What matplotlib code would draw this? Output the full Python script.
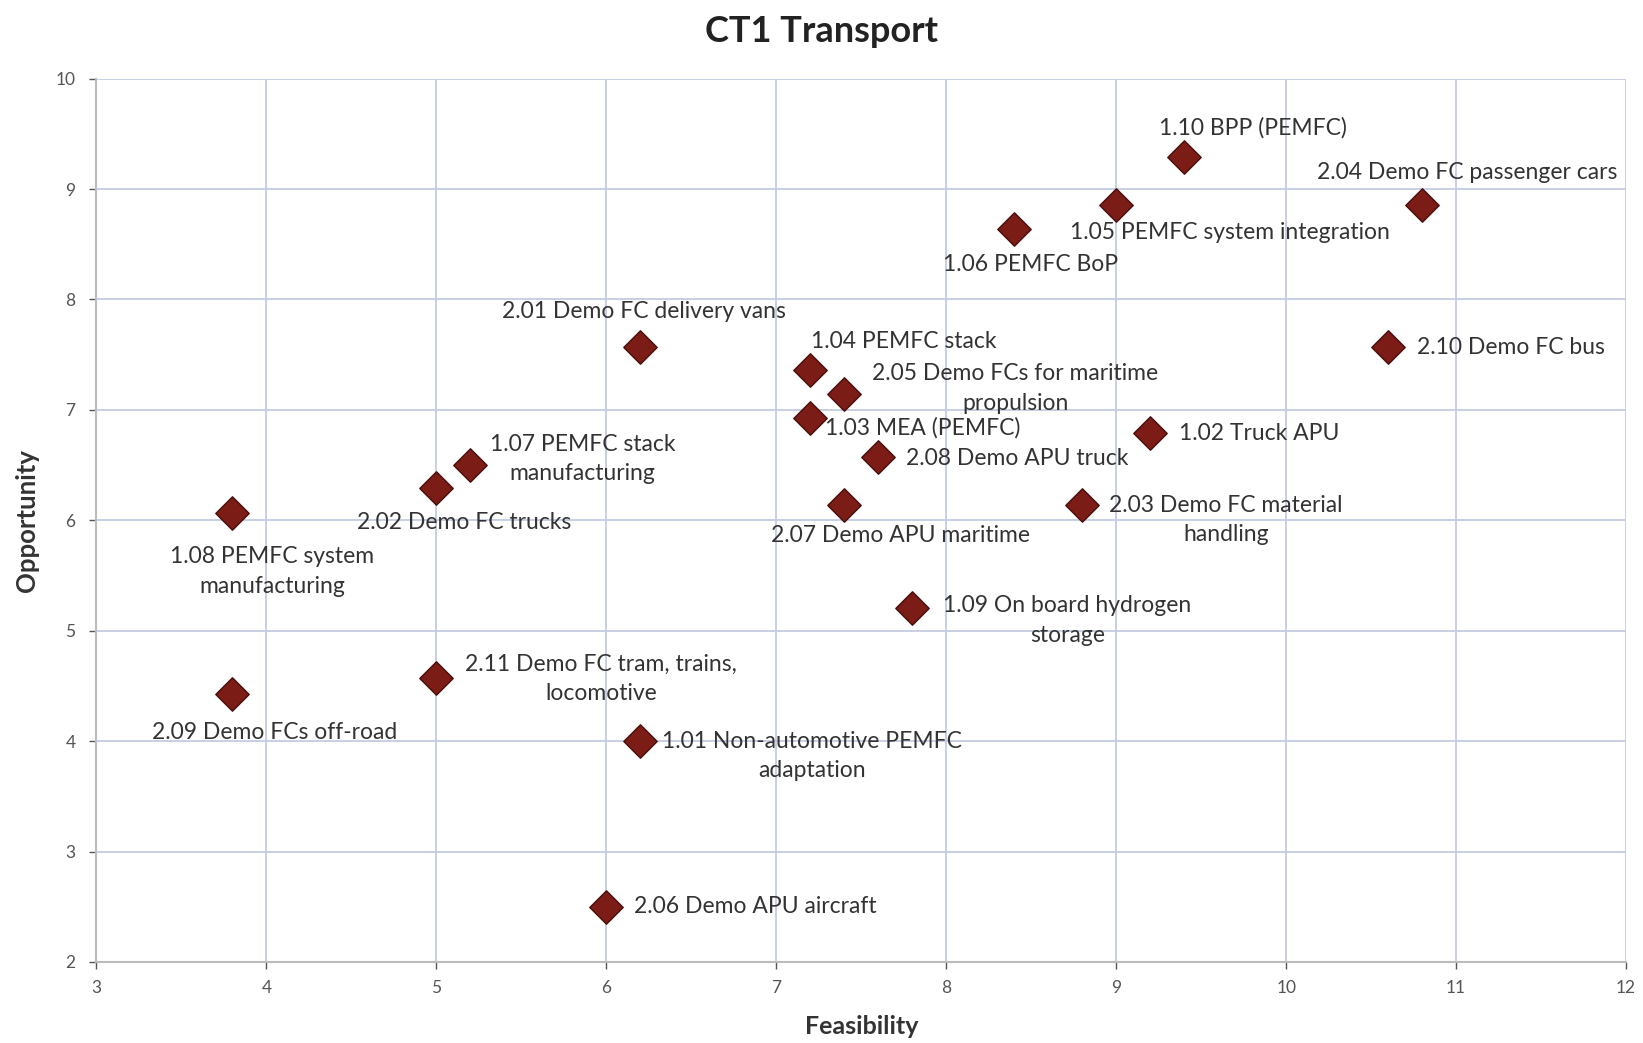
import matplotlib
matplotlib.use("Agg")
import matplotlib.pyplot as plt

labels = [
    "1.10 BPP (PEMFC)", "2.04 Demo FC passenger cars", "1.05 PEMFC system integration",
    "1.06 PEMFC BoP", "2.01 Demo FC delivery vans", "1.04 PEMFC stack",
    "2.05 Demo FCs for maritime\npropulsion", "1.03 MEA (PEMFC)", "2.08 Demo APU truck",
    "1.02 Truck APU", "2.10 Demo FC bus", "2.03 Demo FC material\nhandling",
    "2.07 Demo APU maritime", "1.07 PEMFC stack\nmanufacturing", "2.02 Demo FC trucks",
    "1.08 PEMFC system\nmanufacturing", "1.09 On board hydrogen\nstorage",
    "2.11 Demo FC tram, trains,\nlocomotive", "2.09 Demo FCs off-road",
    "1.01 Non-automotive PEMFC\nadaptation", "2.06 Demo APU aircraft",
]
feasibility = [9.4, 10.8, 9.0, 8.4, 6.2, 7.2, 7.4, 7.2, 7.6, 9.2, 10.6, 8.8,
               7.4, 5.2, 5.0, 3.8, 7.8, 5.0, 3.8, 6.2, 6.0]
opportunity = [9.29, 8.86, 8.86, 8.64, 7.57, 7.36, 7.14, 6.93, 6.57, 6.79, 7.57, 6.14,
               6.14, 6.5, 6.29, 6.07, 5.21, 4.57, 4.43, 4.0, 2.5]

x_ticks = list(range(3, 13))
y_ticks = list(range(2, 11))

# label placement (offset pixels, horizontal anchor)
label_pos = [
    (69, 29, "center"), (45, 32, "center"), (114, -28, "center"),
    (16, -36, "center"), (4, 35, "center"), (1, 29, "left"),
    (171, 6, "center"), (15, -10, "left"), (28, -1, "left"),
    (29, 0, "left"), (29, -1, "left"), (144, -15, "center"),
    (56, -31, "center"), (112, 6, "center"), (28, -34, "center"),
    (40, -59, "center"), (155, -13, "center"),
    (165, -1, "center"), (42, -39, "center"),
    (172, -15, "center"), (28, 0, "left"),
]

plt.rcParams['font.family'] = ['Lato', 'DejaVu Sans']

fig = plt.figure(figsize=(16.43, 10.43), dpi=100)
ax = fig.add_axes([0.0587, 0.0777, 0.9310, 0.8469])

ax.set_xlim(3, 12)
ax.set_ylim(2, 10)
ax.set_xticks(x_ticks)
ax.set_yticks(y_ticks)
ax.tick_params(axis='both', labelsize=12.5, colors='#555555', length=5, width=1)
ax.tick_params(axis='x', pad=8)
ax.tick_params(axis='y', pad=10)
ax.grid(True, color='#c5cbe0', linewidth=1.3)
ax.set_axisbelow(True)
for s in ['top', 'right']:
    ax.spines[s].set_visible(False)
for s in ['left', 'bottom']:
    ax.spines[s].set_color('#bbbbbb')
    ax.spines[s].set_linewidth(1.5)

ax.scatter(feasibility, opportunity, marker='D', s=17**2, color='#7b1c16',
           edgecolors='#4a0d0a', linewidths=1.0, zorder=3)

for lab, xv, yv, (dx, dy, ha) in zip(labels, feasibility, opportunity, label_pos):
    ax.annotate(lab, (xv, yv), xytext=(dx, dy), textcoords='offset pixels',
                ha=ha, va='center', multialignment='center', fontsize=16.5,
                color='#333333', linespacing=1.5, zorder=4)

ax.set_xlabel("Feasibility", fontsize=18, fontweight='bold', color='#333333', labelpad=14)
ax.set_ylabel("Opportunity", fontsize=18.5, fontweight='bold', color='#333333', labelpad=12)
fig.suptitle("CT1 Transport", fontsize=26, fontweight='bold', color='#222222',
             x=0.5, y=0.986)

fig.savefig("out.png", dpi=100, facecolor='white')
